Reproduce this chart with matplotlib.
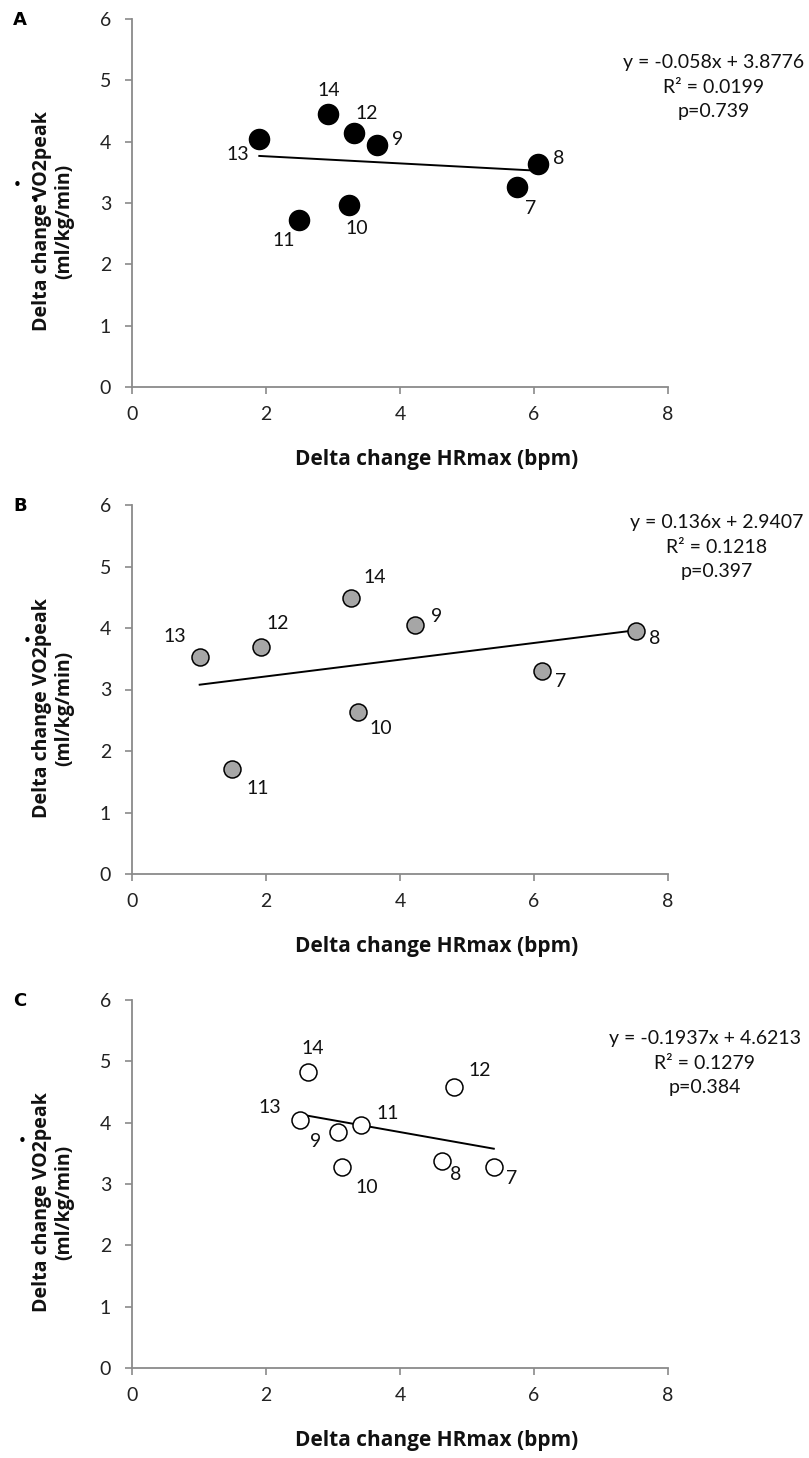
import matplotlib
matplotlib.use("Agg")
import matplotlib.pyplot as plt
import numpy as np

plt.rcParams['font.family'] = ['Lato', 'DejaVu Sans']

# ---------------- data ----------------
subjects = ["7", "8", "9", "10", "11", "12", "13", "14"]

a_x = [5.74, 6.06, 3.66, 3.24, 2.49, 3.31, 1.90, 2.93]
a_y = [3.26, 3.64, 3.95, 2.97, 2.73, 4.14, 4.04, 4.45]

b_x = [6.12, 7.52, 4.22, 3.37, 1.49, 1.92, 1.01, 3.27]
b_y = [3.30, 3.95, 4.05, 2.64, 1.70, 3.69, 3.53, 4.48]

c_x = [5.40, 4.62, 3.07, 3.14, 3.42, 4.80, 2.51, 2.62]
c_y = [3.28, 3.37, 3.84, 3.27, 3.96, 4.58, 4.04, 4.83]

slopes = [-0.058, 0.136, -0.1937]
intercepts = [3.8776, 2.9407, 4.6213]
eq_texts = ["y = -0.058x + 3.8776\nR² = 0.0199\np=0.739",
            "y = 0.136x + 2.9407\nR² = 0.1218\np=0.397",
            "y = -0.1937x + 4.6213\nR² = 0.1279\np=0.384"]
panel_letters = ["A", "B", "C"]
x_ticks = [0, 2, 4, 6, 8]
y_ticks = [0, 1, 2, 3, 4, 5, 6]

# label offsets (pixels: right, up) per subject 7..14
a_off = [(14, -21), (21, 5), (20, 5), (8, -24), (-15, -21), (13, 20), (-22, -15), (0, 24)]
b_off = [(19, -10), (19, -7), (22, 8), (23, -17), (26, -19), (17, 24), (-25, 20), (24, 21)]
c_off = [(18, -12), (14, -13), (-22, -9), (24, -20), (27, 12), (26, 17), (-30, 13), (5, 23)]

# ---------------- layout ----------------
W, H = 809, 1458
fig = plt.figure(figsize=(W / 100, H / 100), dpi=100)

left_px, right_px = 132, 668
panels_px = [(19, 387), (505, 874), (1000, 1368)]
eq_pos = [(714, 54), (717, 514), (705, 1030)]
dot_pos = [[(17, 185), (35, 202)], [(27, 642)], [(22, 1142)]]

face = ["black", "#a6a6a6", "white"]
msize = [20, 17, 17]
datasets = [(a_x, a_y, a_off), (b_x, b_y, b_off), (c_x, c_y, c_off)]

for i, (top, bot) in enumerate(panels_px):
    ax = fig.add_axes([left_px / W, 1 - bot / H, (right_px - left_px) / W, (bot - top) / H])
    xs, ys, offs = datasets[i]
    xs = np.array(xs)
    ys = np.array(ys)

    # trend line
    xl = np.array([xs.min(), xs.max()])
    ax.plot(xl, slopes[i] * xl + intercepts[i], color="black", lw=1.4, zorder=2)

    ax.scatter(xs, ys, s=(msize[i] * 0.72) ** 2, facecolor=face[i],
               edgecolor="black", linewidth=1.1, zorder=3)

    for lab, x, y, (dx, dy) in zip(subjects, xs, ys, offs):
        ax.annotate(lab, (x, y), xytext=(dx * 0.72, dy * 0.72), textcoords="offset points",
                    ha="center", va="center", fontsize=14, color="#111111")

    ax.set_xlim(0, 8)
    ax.set_ylim(0, 6)
    ax.set_xticks(x_ticks)
    ax.set_yticks(y_ticks)
    for s in ["top", "right"]:
        ax.spines[s].set_visible(False)
    for s in ["left", "bottom"]:
        ax.spines[s].set_color("#8a8a8a")
        ax.spines[s].set_linewidth(1.3)
    ax.tick_params(axis="both", direction="out", length=5, width=1.2, color="#8a8a8a",
                   labelsize=14, labelcolor="#222222")
    ax.tick_params(axis="x", pad=9)
    ax.tick_params(axis="y", pad=10)

    ax.set_xlabel("Delta change HRmax (bpm)", fontsize=15, fontweight="bold", color="#111111",
                  family=["Open Sans", "DejaVu Sans"])
    ax.xaxis.set_label_coords((437 - left_px) / (right_px - left_px), -62 / (bot - top))
    ax.set_ylabel("Delta change VO2peak\n(ml/kg/min)", fontsize=14, fontweight="bold",
                  color="#111111", linespacing=1.15, family=["Open Sans", "DejaVu Sans"])
    ax.yaxis.set_label_coords(-(left_px - 74) / (right_px - left_px), 0.45)

    # panel letter
    fig.text(20 / W, 1 - (top + 1) / H, panel_letters[i], fontsize=13, fontweight="bold",
             ha="center", va="center", family=["DejaVu Sans"])
    # regression equation
    ex, ey = eq_pos[i]
    fig.text(ex / W, 1 - ey / H, eq_texts[i], fontsize=14, ha="center", va="top",
             linespacing=1.55, color="#111111")
    # dot over V
    for dx_, dy_ in dot_pos[i]:
        fig.text(dx_ / W, 1 - dy_ / H, "•", fontsize=11, ha="center", va="center",
                 color="black", family=["DejaVu Sans"])

fig.savefig("out.png", dpi=100)
